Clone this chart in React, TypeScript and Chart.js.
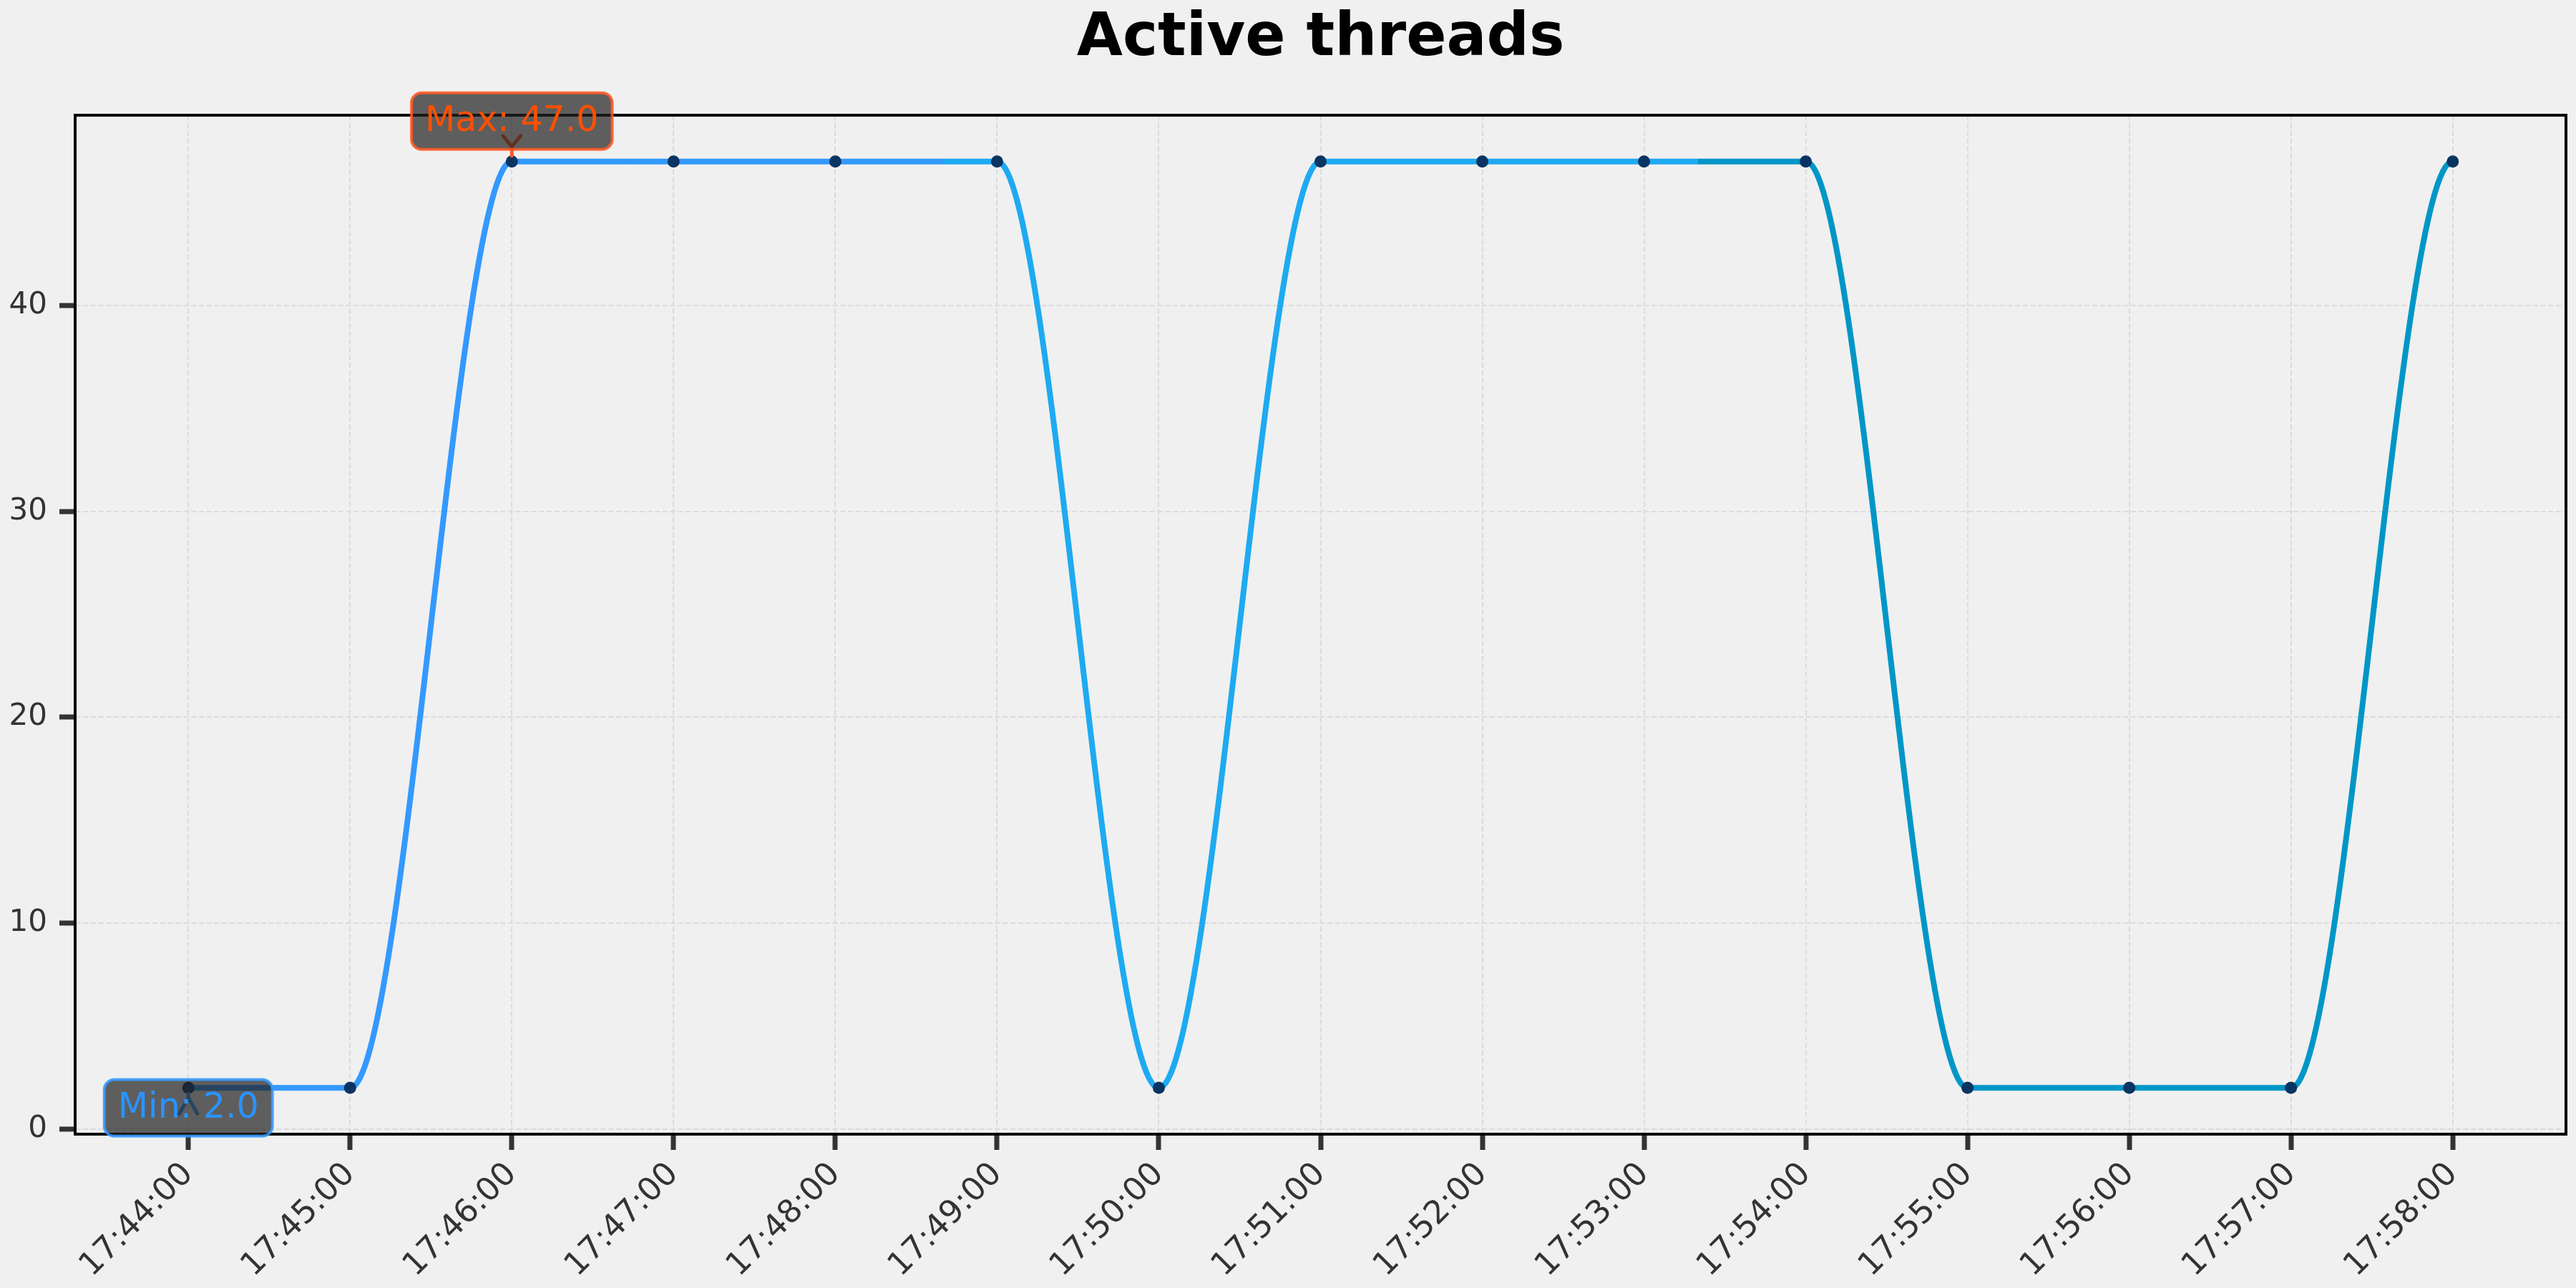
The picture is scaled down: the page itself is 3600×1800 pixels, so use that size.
import React, { useEffect, useRef } from 'react';
import { Chart, registerables } from 'chart.js';

Chart.register(...registerables);

const TITLE = 'Active threads';
const TIME_LABELS = [
  '17:44:00', '17:45:00', '17:46:00', '17:47:00', '17:48:00',
  '17:49:00', '17:50:00', '17:51:00', '17:52:00', '17:53:00',
  '17:54:00', '17:55:00', '17:56:00', '17:57:00', '17:58:00',
];
const THREADS = [2, 2, 47, 47, 47, 47, 2, 47, 47, 47, 47, 2, 2, 2, 47];
const Y_TICKS = [0, 10, 20, 30, 40];
const SEGMENT_COLORS = ['#3399ff', '#1eaaf1', '#0096c7'];

const W = 3600;
const H = 1800;
const FONT = '"DejaVu Sans", "Liberation Sans", sans-serif';
const BG = '#f0f0f0';

export default function App() {
  const ref = useRef<HTMLCanvasElement | null>(null);

  useEffect(() => {
    document.body.style.margin = '0';
    document.body.style.overflow = 'hidden';
    const canvas = ref.current;
    if (!canvas) return;

    const n = THREADS.length;
    const vMax = Math.max(...THREADS);
    const vMin = Math.min(...THREADS);
    const yPad = (vMax - vMin) * 0.05;
    const xPad = (n - 1) * 0.05;
    const maxIdx = THREADS.indexOf(vMax);
    const minIdx = THREADS.indexOf(vMin);

    const bgPlugin = {
      id: 'bg',
      beforeDraw(chart: any) {
        const { ctx } = chart;
        ctx.save();
        ctx.fillStyle = BG;
        ctx.fillRect(0, 0, chart.width, chart.height);
        ctx.restore();
      },
    };

    // flatten the curve's tangent at both ends of the series
    const endTangentPlugin = {
      id: 'endTangent',
      beforeDatasetsDraw(chart: any) {
        const meta = chart.getDatasetMeta(0);
        const line = meta && meta.dataset;
        if (!line || !meta.data.length) return;
        line.updateControlPoints(chart.chartArea, 'x');
        const pts = meta.data;
        const first = pts[0];
        const last = pts[pts.length - 1];
        first.cp2y = first.y;
        last.cp1y = last.y;
      },
    };

    const notesPlugin = {
      id: 'notes',
      afterDraw(chart: any) {
        const { ctx, chartArea: a, scales } = chart;
        const xs = scales.x;
        const ys = scales.y;
        ctx.save();
        // frame
        ctx.strokeStyle = '#000000';
        ctx.lineWidth = 4;
        ctx.strokeRect(a.left, a.top, a.right - a.left, a.bottom - a.top);
        // title
        ctx.fillStyle = '#000000';
        ctx.font = `bold 83px ${FONT}`;
        ctx.textAlign = 'center';
        ctx.textBaseline = 'alphabetic';
        ctx.fillText(TITLE, (a.left + a.right) / 2, 77);

        const note = (
          idx: number,
          label: string,
          dir: number,
          boxOffset: number,
          vertexOffset: number,
          edge: string,
          textColor: string,
          arrowColor: string
        ) => {
          const px = xs.getPixelForValue(idx);
          const py = ys.getPixelForValue(THREADS[idx]);
          // arrow
          ctx.strokeStyle = arrowColor;
          ctx.lineWidth = 5;
          ctx.lineCap = 'round';
          ctx.beginPath();
          ctx.moveTo(px, py + dir * 8);
          ctx.lineTo(px, py + dir * vertexOffset);
          ctx.stroke();
          ctx.beginPath();
          ctx.moveTo(px - 12.5, py + dir * 36);
          ctx.lineTo(px, py + dir * vertexOffset);
          ctx.lineTo(px + 12.5, py + dir * 36);
          ctx.stroke();
          // box
          ctx.font = `49px ${FONT}`;
          const tw = ctx.measureText(label).width;
          const bw = tw + 38;
          const bh = 79;
          const cy = py + dir * boxOffset;
          ctx.beginPath();
          (ctx as any).roundRect(px - bw / 2, cy - bh / 2, bw, bh, 14);
          ctx.fillStyle = 'rgba(34,34,34,0.71)';
          ctx.fill();
          ctx.lineWidth = 4;
          ctx.strokeStyle = edge;
          ctx.stroke();
          ctx.fillStyle = textColor;
          ctx.textAlign = 'center';
          ctx.textBaseline = 'alphabetic';
          ctx.fillText(label, px, cy + 14);
        };

        note(maxIdx, `Max: ${vMax.toFixed(1)}`, -1, 56.5, 21, 'rgba(255,87,34,0.85)', '#ff4f00', '#ff5722');
        note(minIdx, `Min: ${vMin.toFixed(1)}`, 1, 28, 14, 'rgba(51,153,255,0.85)', '#2a93ff', '#3399ff');
        ctx.restore();
      },
    };

    const chart = new Chart(canvas, {
      type: 'line',
      data: {
        datasets: [
          {
            data: THREADS.map((v, i) => ({ x: i, y: v })),
            borderWidth: 8,
            cubicInterpolationMode: 'monotone',
            borderColor: (c: any) => {
              const ch = c.chart;
              if (!ch.chartArea || !ch.scales.x) return SEGMENT_COLORS[0];
              const xs = ch.scales.x;
              const x0 = xs.getPixelForValue(0);
              const x1 = xs.getPixelForValue(n - 1);
              const g = ch.ctx.createLinearGradient(x0, 0, x1, 0);
              const k = SEGMENT_COLORS.length;
              SEGMENT_COLORS.forEach((col, j) => {
                g.addColorStop(j / k, col);
                g.addColorStop((j + 1) / k, col);
              });
              return g;
            },
            pointRadius: 8.5,
            pointBackgroundColor: '#0a3461',
            pointBorderWidth: 0,
            fill: false,
          } as any,
        ],
      },
      options: {
        responsive: false,
        animation: false,
        events: [],
        layout: { padding: { top: 161, right: 14, left: 0, bottom: 0 } },
        plugins: {
          legend: { display: false },
          title: { display: false },
          tooltip: { enabled: false },
        },
        scales: {
          x: {
            type: 'linear',
            min: -xPad,
            max: n - 1 + xPad,
            afterBuildTicks: (s: any) => {
              s.ticks = TIME_LABELS.map((_, i) => ({ value: i }));
            },
            afterFit: (s: any) => {
              s.height = H - 1585;
            },
            ticks: {
              autoSkip: false,
              minRotation: 45,
              maxRotation: 45,
              padding: 8,
              color: '#333333',
              font: { family: FONT, size: 45 },
              callback: (v: any) => TIME_LABELS[Math.round(Number(v))] ?? '',
            },
            grid: {
              color: '#dcdcdc',
              lineWidth: 2,
              drawTicks: true,
              tickLength: 22,
              tickWidth: 7,
              tickColor: '#333333',
            },
            border: { display: false, dash: [7.4, 3.4] },
          },
          y: {
            type: 'linear',
            min: vMin - yPad,
            max: vMax + yPad,
            afterBuildTicks: (s: any) => {
              s.ticks = Y_TICKS.map((v) => ({ value: v }));
            },
            afterFit: (s: any) => {
              s.width = 105;
            },
            ticks: {
              padding: 17,
              color: '#333333',
              font: { family: FONT, size: 42 },
              callback: (v: any) => String(v),
            },
            grid: {
              color: '#dcdcdc',
              lineWidth: 2,
              drawTicks: true,
              tickLength: 22,
              tickWidth: 7,
              tickColor: '#333333',
            },
            border: { display: false, dash: [7.4, 3.4] },
          },
        },
      } as any,
      plugins: [bgPlugin, endTangentPlugin, notesPlugin],
    });

    return () => {
      chart.destroy();
    };
  }, []);

  return (
    <div style={{ width: W, height: H, background: BG }}>
      <canvas ref={ref} width={W} height={H} style={{ display: 'block', width: W, height: H }} />
    </div>
  );
}
